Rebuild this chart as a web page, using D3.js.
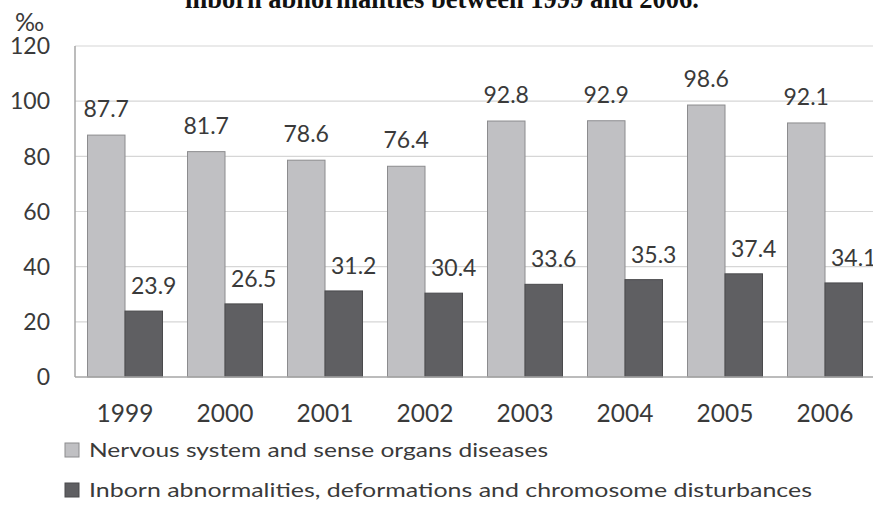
<!DOCTYPE html>
<html>
<head>
<meta charset="utf-8">
<script src="https://cdn.jsdelivr.net/npm/d3@7"></script>
<style>
  body { margin: 0; background: #fff; }
  svg { display: block; }
</style>
</head>
<body>
<svg id="chart" width="873" height="506"></svg>
<script>
// data
let years = ["1999", "2000", "2001", "2002", "2003", "2004", "2005", "2006"];
let nervous = [87.7, 81.7, 78.6, 76.4, 92.8, 92.9, 98.6, 92.1];
let inborn = [23.9, 26.5, 31.2, 30.4, 33.6, 35.3, 37.4, 34.1];
let yTicks = [0, 20, 40, 60, 80, 100, 120];
let seriesNames = [
  "Nervous system and sense organs diseases",
  "Inborn abnormalities, deformations and chromosome disturbances"
];

let margin = {top: 46, left: 75, bottom: 377, right: 875};
let fontFam = "Lato, 'Open Sans', sans-serif";
let textCol = "#3a3a3a";

let svg = d3.select("#chart");

let x = d3.scaleBand(years, [margin.left, margin.right])
  .paddingInner(0.25)
  .paddingOuter(0.125);
let sub = d3.scaleBand([0, 1], [0, x.bandwidth()]);
let y = d3.scaleLinear([0, 120], [margin.bottom, margin.top]);

// title, mostly cut off at the top
svg.append("text")
  .attr("x", 442)
  .attr("y", 7.5)
  .attr("text-anchor", "middle")
  .attr("font-family", "'Liberation Serif', 'Times New Roman', serif")
  .attr("font-weight", "bold")
  .attr("font-size", 26.5)
  .attr("fill", "#111")
  .text("inborn abnormalities between 1999 and 2006.");

// gridlines
svg.append("g")
  .selectAll("line")
  .data(yTicks.slice(1))
  .join("line")
  .attr("x1", margin.left)
  .attr("x2", 873)
  .attr("y1", d => y(d))
  .attr("y2", d => y(d))
  .attr("stroke", "#d6d6d6")
  .attr("stroke-width", 1.2);

// y tick labels
svg.append("g")
  .selectAll("text")
  .data(yTicks)
  .join("text")
  .attr("x", 50)
  .attr("y", d => y(d))
  .attr("dy", "0.36em")
  .attr("text-anchor", "end")
  .attr("font-family", fontFam)
  .attr("font-size", 23)
  .attr("fill", textCol)
  .text(d => d);

svg.append("text")
  .attr("x", 15)
  .attr("y", 31)
  .attr("font-family", fontFam)
  .attr("font-size", 25)
  .attr("fill", textCol)
  .text("‰");

let series = [
  {name: seriesNames[0], values: nervous, fill: "#c0c0c3", stroke: "#8c8c8e", dx: 0, dy: -18, legendW: 459},
  {name: seriesNames[1], values: inborn, fill: "#5f5f62", stroke: "#4a4a4c", dx: 10, dy: -17, legendW: 723}
];

series.forEach((s, si) => {
  let g = svg.append("g");
  g.selectAll("rect")
    .data(s.values)
    .join("rect")
    .attr("x", (d, i) => x(years[i]) + sub(si))
    .attr("width", sub.bandwidth())
    .attr("y", d => y(d))
    .attr("height", d => y(0) - y(d))
    .attr("fill", s.fill)
    .attr("stroke", s.stroke)
    .attr("stroke-width", 1);
  g.selectAll("text")
    .data(s.values)
    .join("text")
    .attr("x", (d, i) => x(years[i]) + sub(si) + sub.bandwidth() / 2 + s.dx)
    .attr("y", d => y(d) + s.dy)
    .attr("text-anchor", "middle")
    .attr("font-family", fontFam)
    .attr("font-size", 23)
    .attr("fill", textCol)
    .text(d => d.toFixed(1));
});

// axes lines
svg.append("line")
  .attr("x1", margin.left).attr("x2", margin.left)
  .attr("y1", margin.top).attr("y2", margin.bottom)
  .attr("stroke", "#a6a6a6").attr("stroke-width", 1.5);
svg.append("line")
  .attr("x1", margin.left).attr("x2", 873)
  .attr("y1", margin.bottom).attr("y2", margin.bottom)
  .attr("stroke", "#a6a6a6").attr("stroke-width", 1.5);

// year labels
svg.append("g")
  .selectAll("text")
  .data(years)
  .join("text")
  .attr("x", d => x(d) + x.bandwidth() / 2)
  .attr("y", 422)
  .attr("text-anchor", "middle")
  .attr("font-family", fontFam)
  .attr("font-size", 24.5)
  .attr("fill", textCol)
  .text(d => d);

// legend
let legend = svg.append("g")
  .selectAll("g")
  .data(series)
  .join("g")
  .attr("transform", (d, i) => `translate(65,${443 + i * 40})`);
legend.append("rect")
  .attr("width", 14)
  .attr("height", 14)
  .attr("fill", d => d.fill)
  .attr("stroke", d => d.stroke);
legend.append("text")
  .attr("x", 24)
  .attr("y", 14)
  .attr("font-family", fontFam)
  .attr("font-size", 20)
  .attr("fill", textCol)
  .attr("textLength", d => d.legendW)
  .attr("lengthAdjust", "spacingAndGlyphs")
  .text(d => d.name);
</script>
</body>
</html>
